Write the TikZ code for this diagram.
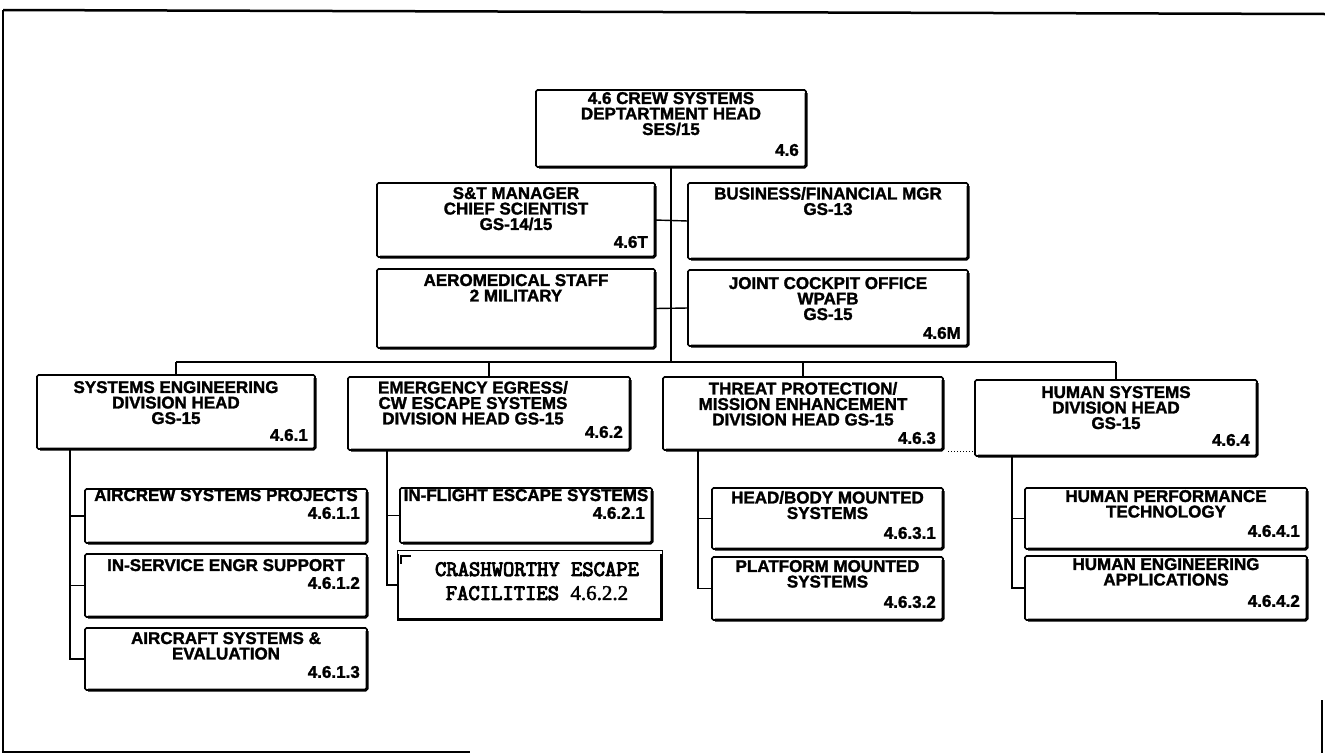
\documentclass[tikz,border=0pt]{standalone}
\usepackage{fontspec}
\setmainfont{Liberation Sans}
\newfontfamily\heavyfont{Liberation Sans}[FakeBold=1.6]
\newfontfamily\crashfont{Latin Modern Mono}[FakeBold=4]
\newfontfamily\crashnum{Liberation Serif}[FakeBold=2]
\newcommand\strokeon{\special{pdf:literal direct 2 Tr 0.9 w}}
\newcommand\strokeoff{\special{pdf:literal direct 0 Tr}}
\newcommand\obox[8][]{%
  \node[obox, minimum width={(#5)-(#3)}, minimum height={(#6)-(#4)}] (#2) at ({((#3)+(#5))/2},{((#4)+(#6))/2}) {};
  \draw[shadeline] ([yshift=-3pt]#2.north east) -- (#2.south east) -- ([xshift=3pt]#2.south west);
  \node[txt, anchor=north, #1] (#2-t) at ({((#3)+(#5))/2},{(#7)-6.1}) {#8};
}
\newcommand\onum[3]{%
  \node[lbl, anchor=east, xshift=-7pt] (#1-n) at (#1.east |- 0,#2) {#3};
}
\begin{document}
\begin{tikzpicture}[x=1pt,y=-1pt,
  obox/.style={draw, line width=1.6pt, rounded corners=1.5pt, inner sep=0pt, outer sep=0pt},
  shadeline/.style={line width=3pt, rounded corners=1.5pt},
  txt/.style={font={\heavyfont\bfseries\fontsize{17}{15.5}\selectfont}, align=center, inner sep=0pt},
  lbl/.style={font={\heavyfont\bfseries\fontsize{17}{15.5}\selectfont}, inner sep=0pt},
  conn/.style={line width=1.4pt},
  framethin/.style={line width=1.5pt},
  framethick/.style={line width=2.5pt}]
\useasboundingbox (0,0) rectangle (1325,753);

% frame
\coordinate (f1) at (3,10);
\coordinate (f2) at (1325,14);
\coordinate (f3) at (3,752);
\coordinate (f4) at (470,752);
\coordinate (f5) at (1322,700);
\coordinate (f6) at (1322,753);
\draw[framethick] (f2) -- (f1);
\draw[framethin] (f1) -- (f3) -- (f4);
\draw[framethick] (f5) -- (f6);

% top level
\obox{top}{536}{90}{806}{167}{98}{4.6 CREW SYSTEMS\\DEPTARTMENT HEAD\\SES/15}
\onum{top}{150}{4.6}
\obox{st}{377}{183}{655}{257}{193}{S\&T MANAGER\\CHIEF SCIENTIST\\GS-14/15}
\onum{st}{242}{4.6T}
\obox{bf}{688}{183}{968}{259}{193}{BUSINESS/FINANCIAL MGR\\GS-13}
\obox{am}{377}{269}{655}{348}{280}{AEROMEDICAL STAFF\\2 MILITARY}
\obox{jc}{688}{270}{968}{346}{283}{JOINT COCKPIT OFFICE\\WPAFB\\GS-15}
\onum{jc}{333}{4.6M}

% divisions
\obox{se}{37}{375}{315}{449}{387}{SYSTEMS ENGINEERING\\DIVISION HEAD\\GS-15}
\onum{se}{435}{4.6.1}
\obox[xshift=-16pt]{eg}{348}{377}{630}{450}{387}{EMERGENCY EGRESS/\\CW ESCAPE SYSTEMS\\DIVISION HEAD GS-15}
\onum{eg}{432}{4.6.2}
\obox{tp}{663}{377}{943}{450}{388}{THREAT PROTECTION/\\MISSION ENHANCEMENT\\DIVISION HEAD GS-15}
\onum{tp}{438}{4.6.3}
\obox{hs}{975}{380}{1257}{456}{392}{HUMAN SYSTEMS\\DIVISION HEAD\\GS-15}
\onum{hs}{440}{4.6.4}

% branches
\obox{se1}{85}{489}{367}{543}{495}{AIRCREW SYSTEMS PROJECTS}
\onum{se1}{513}{4.6.1.1}
\obox{se2}{85}{554}{367}{617}{565}{IN-SERVICE ENGR SUPPORT}
\onum{se2}{583}{4.6.1.2}
\obox{se3}{85}{628}{367}{690}{638}{AIRCRAFT SYSTEMS \&\\EVALUATION}
\onum{se3}{672}{4.6.1.3}

\obox{eg1}{400}{488}{652}{543}{495}{IN-FLIGHT ESCAPE SYSTEMS}
\onum{eg1}{513}{4.6.2.1}
\node[draw, line width=1pt, inner sep=0pt, minimum width=265, minimum height=70] (eg2) at (529.5,585) {};
\draw[line width=2.6pt] ([shift={(1.5,4)}]eg2.north west) -- ([shift={(1.5,-1.5)}]eg2.south west)
  -- ([shift={(-1.5,-1.5)}]eg2.south east) -- ([shift={(-1.5,4)}]eg2.north east);
\draw[line width=2pt] ([shift={(14,6)}]eg2.north west) -- ([shift={(4,6)}]eg2.north west) -- ([shift={(4,14)}]eg2.north west);
\node[font={\crashfont\fontsize{22}{24}\selectfont}, align=center, inner sep=0pt, anchor=north]
  (eg2-t) at (537,562) {\strokeon CRASHWORTHY ESCAPE\\FACILITIES {\crashnum\fontsize{21}{24}\selectfont 4.6.2.2}\strokeoff};

\obox{tp1}{712}{488}{943}{549}{497}{HEAD/BODY MOUNTED\\SYSTEMS}
\onum{tp1}{533}{4.6.3.1}
\obox{tp2}{712}{557}{943}{620}{566}{PLATFORM MOUNTED\\SYSTEMS}
\onum{tp2}{602}{4.6.3.2}

\obox{hs1}{1025}{488}{1307}{549}{496}{HUMAN PERFORMANCE\\TECHNOLOGY}
\onum{hs1}{531}{4.6.4.1}
\obox{hs2}{1025}{556}{1307}{620}{564}{HUMAN ENGINEERING\\APPLICATIONS}
\onum{hs2}{601}{4.6.4.2}

% connectors
\coordinate (bus) at (0,362);
\draw[conn] (top.south) -- (top.south |- bus);
\draw[conn] (st.east) -- (bf.west);
\draw[conn] (am.east) -- (jc.west);
\draw[conn] (se.north |- bus) -- (hs.north |- bus);
\draw[conn] (se.north |- bus) -- (se.north);
\draw[conn] (eg.north |- bus) -- (eg.north);
\draw[conn] (tp.north |- bus) -- (tp.north);
\draw[conn] (hs.north |- bus) -- (hs.north);

\coordinate (sev) at (70,0);
\draw[conn] (se.south -| sev) |- (se3.west);
\draw[conn] (se1.west -| sev) -- (se1.west);
\draw[conn] (se2.west -| sev) -- (se2.west);

\coordinate (egv) at (387,0);
\draw[conn] (eg.south -| egv) |- (eg2.west);
\draw[conn] (eg1.west -| egv) -- (eg1.west);

\coordinate (tpv) at (698,0);
\draw[conn] (tp.south -| tpv) |- (tp2.west);
\draw[conn] (tp1.west -| tpv) -- (tp1.west);

\coordinate (hsv) at (1012,0);
\draw[conn] (hs.south -| hsv) |- (hs2.west);
\draw[conn] (hs1.west -| hsv) -- (hs1.west);

% dotted trace between divisions
\draw[dotted, line width=1pt] (tp.south east) ++(5,1) -- ++(26,0);
\end{tikzpicture}
\end{document}
